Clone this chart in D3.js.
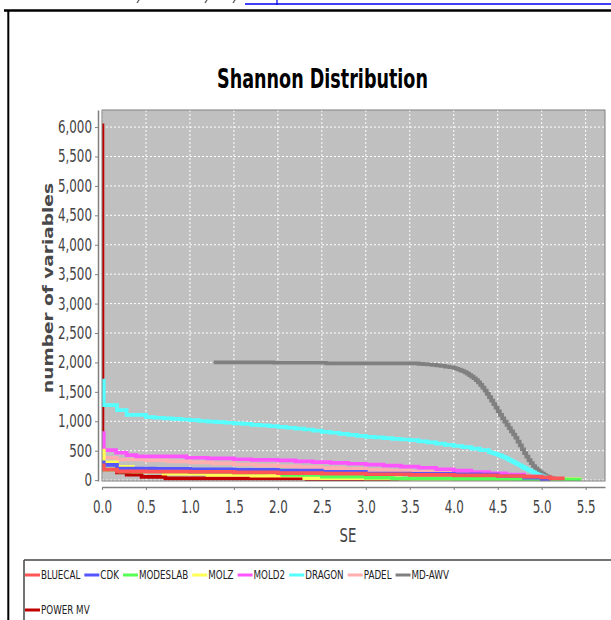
<!DOCTYPE html>
<html>
<head>
<meta charset="utf-8">
<script src="https://cdn.jsdelivr.net/npm/d3@7"></script>
<style>
  body { margin: 0; background: #fff; }
  svg { display: block; }
</style>
</head>
<body>
<script>
// series names and colours (legend order)
const seriesNames = ["BLUECAL", "CDK", "MODESLAB", "MOLZ", "MOLD2", "DRAGON", "PADEL", "MD-AWV", "POWER MV"];
const seriesColors = ["#ff5555", "#5555ff", "#55ff55", "#ffff55", "#ff55ff", "#55ffff", "#ffafaf", "#808080", "#c00000"];

// SE thresholds and number of variables
const bluecalSE = [0, 0.02, 0.17, 0.5, 1.0, 1.5, 2.0, 2.5, 3.0, 3.5, 4.0, 4.5, 4.8, 5.0, 5.1, 5.24];
const bluecalN  = [250, 180, 150, 145, 140, 130, 120, 110, 100, 90, 80, 70, 58, 45, 30, 0];

const cdkSE = [0, 0.02, 0.17, 0.6, 1.0, 1.5, 2.0, 2.5, 3.0, 3.5, 4.0, 4.3, 4.5, 4.8, 5.0, 5.1];
const cdkN  = [300, 260, 195, 190, 185, 175, 160, 140, 110, 105, 100, 95, 70, 40, 15, 0];

const modeslabSE = [0, 0.02, 0.2, 1.0, 1.5, 1.85, 2.05, 2.5, 3.0, 3.3, 4.0, 4.7, 5.0, 5.45];
const modeslabN  = [260, 180, 150, 140, 130, 165, 90, 60, 40, 25, 22, 18, 10, 10];

const molzSE = [0, 0.02, 0.17, 0.35, 0.7, 1.2, 1.7, 2.3, 3.0, 3.4, 4.0, 4.7, 5.2, 5.45];
const molzN  = [500, 300, 225, 150, 110, 90, 75, 35, 30, 22, 18, 15, 12, 12];

const mold2SE = [0, 0.02, 0.16, 0.28, 0.39, 0.96, 1.2, 1.5, 1.7, 2.0, 2.2, 2.4, 2.6, 2.8, 3.0, 3.2, 3.4, 3.6, 3.8, 4.0, 4.2, 4.4, 4.6, 4.8, 5.0, 5.1];
const mold2N  = [800, 510, 465, 425, 405, 380, 370, 355, 345, 335, 320, 305, 292, 278, 262, 245, 228, 210, 185, 160, 135, 115, 95, 60, 30, 0];

const dragonSE = [0, 0.02, 0.17, 0.28, 0.5, 0.6, 0.7, 0.8, 0.9, 1.0, 1.1, 1.2, 1.3, 1.4, 1.5, 1.6, 1.7, 1.8, 1.9, 2.0,
    2.1, 2.2, 2.3, 2.4, 2.5, 2.6, 2.7, 2.8, 2.9, 3.0, 3.1, 3.2, 3.3, 3.4, 3.5, 3.6, 3.7, 3.8, 3.9, 4.0, 4.1, 4.2, 4.3,
    4.4, 4.425, 4.45, 4.475, 4.5, 4.525, 4.55, 4.575, 4.6, 4.625, 4.65, 4.675, 4.7, 4.725, 4.75, 4.775, 4.8, 4.825,
    4.85, 4.875, 4.9, 4.925, 4.95, 4.975, 5.0, 5.025, 5.05, 5.075, 5.1, 5.15, 5.2];
const dragonN  = [1690, 1275, 1190, 1110, 1070, 1060, 1050, 1040, 1030, 1020, 1005, 995, 985, 975, 965, 955, 940, 930, 918, 905,
    890, 875, 860, 840, 820, 805, 785, 770, 752, 735, 725, 712, 700, 690, 680, 660, 640, 620, 600, 580, 560, 535, 510,
    475, 465, 455, 443, 430, 415, 400, 383, 365, 345, 325, 305, 285, 265, 245, 225, 205, 185,
    165, 147, 130, 112, 95, 80, 65, 52, 40, 30, 20, 8, 0];

const padelSE = [0, 0.02, 0.17, 0.5, 0.75, 1.0, 1.25, 1.5, 1.75, 2.0, 2.25, 2.5, 2.75, 3.0, 3.25, 3.5, 3.75, 4.0, 4.25, 4.5, 4.65, 4.8, 5.0, 5.15];
const padelN  = [440, 380, 350, 335, 318, 300, 283, 265, 250, 235, 220, 205, 190, 175, 160, 145, 130, 115, 98, 80, 62, 45, 20, 0];

const mdawvSE = [1.27, 1.95, 2.55, 3.6, 3.65, 3.7, 3.75, 3.8, 3.85, 3.9, 3.95,
    4.0, 4.025, 4.05, 4.075, 4.1, 4.125, 4.15, 4.175, 4.2, 4.225, 4.25, 4.275, 4.3, 4.325, 4.35, 4.375,
    4.4, 4.425, 4.45, 4.475, 4.5, 4.525, 4.55, 4.575, 4.6, 4.625, 4.65, 4.675, 4.7, 4.725, 4.75, 4.775,
    4.8, 4.825, 4.85, 4.875, 4.9, 4.925, 4.95, 4.975, 5.0, 5.025, 5.05, 5.075, 5.1, 5.125, 5.15, 5.2, 5.25];
const mdawvN  = [2000, 1995, 1985, 1975, 1970, 1965, 1958, 1950, 1941, 1930, 1918,
    1905, 1893, 1880, 1866, 1850, 1831, 1810, 1786, 1760, 1731, 1700, 1662, 1620, 1572, 1520, 1466,
    1410, 1350, 1290, 1230, 1170, 1110, 1050, 995, 940, 885, 830, 775, 720, 655, 590, 525,
    460, 400, 340, 290, 240, 200, 165, 135, 110, 85, 65, 50, 35, 25, 15, 5, 0];

const powermvSE = [0, 0.005, 0.17, 0.28, 0.45, 0.72, 2.33, 3.0, 3.5];
const powermvN  = [6030, 270, 130, 95, 55, 28, 15, 5, 0];

const seriesSE = [bluecalSE, cdkSE, modeslabSE, molzSE, mold2SE, dragonSE, padelSE, mdawvSE, powermvSE];
const seriesN  = [bluecalN, cdkN, modeslabN, molzN, mold2N, dragonN, padelN, mdawvN, powermvN];

// axis ticks
const xTicks = [0, 0.5, 1, 1.5, 2, 2.5, 3, 3.5, 4, 4.5, 5, 5.5];
const yTicks = [0, 500, 1000, 1500, 2000, 2500, 3000, 3500, 4000, 4500, 5000, 5500, 6000];

const title = "Shannon Distribution";
const xLabel = "SE";
const yLabel = "number of variables";

const width = 611, height = 620;
const plot = { left: 102, right: 605, top: 110, bottom: 481 };
const squeezeK = 0.7;   // the picture is narrowed horizontally

const svg = d3.select("body").append("svg")
    .attr("width", width)
    .attr("height", height);

// narrow text horizontally, keeping its anchor point
function squeeze(sel, k) {
    sel.each(function () {
        const t = d3.select(this);
        const x0 = +t.attr("x") || 0;
        t.attr("x", x0 / k).attr("transform", `scale(${k},1)`);
    });
}

const x = d3.scaleLinear().domain([0, 5.72]).range([plot.left, plot.right]);
const y = d3.scaleLinear().domain([-15, 6290]).range([plot.bottom, plot.top]);

// page fragments above the chart (cut-off line of the page)
svg.append("line")
    .attr("x1", 245).attr("x2", width).attr("y1", 4).attr("y2", 4)
    .attr("stroke", "#0000ee").attr("stroke-width", 1.5);
svg.append("line")
    .attr("x1", 277).attr("x2", 277).attr("y1", 0).attr("y2", 5)
    .attr("stroke", "#0000ee").attr("stroke-width", 1.2);
[138, 206, 234].forEach(cx => {
    svg.append("path")
        .attr("d", `M${cx + 1},0 L${cx - 1},3`)
        .attr("stroke", "#555").attr("stroke-width", 1.3).attr("fill", "none");
});

// outer frame
svg.append("line")
    .attr("x1", 4).attr("x2", width).attr("y1", 10.5).attr("y2", 10.5)
    .attr("stroke", "#000").attr("stroke-width", 2.5);
svg.append("line")
    .attr("x1", 8.3).attr("x2", 8.3).attr("y1", 10).attr("y2", height)
    .attr("stroke", "#000").attr("stroke-width", 2);

// plot background
svg.append("rect")
    .attr("x", plot.left).attr("y", plot.top)
    .attr("width", plot.right - plot.left).attr("height", plot.bottom - plot.top)
    .attr("fill", "#c0c0c0");

// gridlines
svg.append("g").selectAll("line")
    .data(xTicks)
    .enter().append("line")
    .attr("x1", d => x(d)).attr("x2", d => x(d))
    .attr("y1", plot.top).attr("y2", plot.bottom)
    .attr("stroke", "#fff").attr("stroke-width", 1).attr("stroke-dasharray", "2,2");
svg.append("g").selectAll("line")
    .data(yTicks)
    .enter().append("line")
    .attr("x1", plot.left).attr("x2", plot.right)
    .attr("y1", d => y(d)).attr("y2", d => y(d))
    .attr("stroke", "#fff").attr("stroke-width", 1).attr("stroke-dasharray", "2,2");

// clip for the series
svg.append("clipPath").attr("id", "plotClip")
    .append("rect")
    .attr("x", plot.left).attr("y", plot.top)
    .attr("width", plot.right - plot.left).attr("height", plot.bottom - plot.top);

const line = d3.line()
    .x(d => x(d[0]))
    .y(d => y(d[1]))
    .curve(d3.curveStepAfter);

// series are drawn in reverse order, first series on top
const order = d3.range(seriesNames.length).reverse();
svg.append("g").attr("clip-path", "url(#plotClip)")
    .selectAll("path")
    .data(order)
    .enter().append("path")
    .attr("d", i => line(seriesSE[i].map((s, j) => [s, seriesN[i][j]])))
    .attr("fill", "none")
    .attr("stroke", i => seriesColors[i])
    .attr("stroke-width", 3.7);

// plot outline
svg.append("rect")
    .attr("x", plot.left).attr("y", plot.top)
    .attr("width", plot.right - plot.left).attr("height", plot.bottom - plot.top)
    .attr("fill", "none").attr("stroke", "#808080").attr("stroke-width", 1);

// y axis
const yAxis = svg.append("g")
    .attr("transform", "translate(98,0)")
    .call(d3.axisLeft(y).tickValues(yTicks).tickFormat(d3.format(","))
        .tickSizeInner(3).tickSizeOuter(0).tickPadding(3));
yAxis.select(".domain").attr("stroke", "#808080").attr("stroke-width", 1.5);
yAxis.selectAll(".tick line").attr("stroke", "#808080");
yAxis.selectAll(".tick text")
    .attr("fill", "#444")
    .attr("font-family", "DejaVu Sans")
    .attr("font-size", 17);
squeeze(yAxis.selectAll(".tick text"), squeezeK);

// x axis
const xAxis = svg.append("g")
    .attr("transform", "translate(0,487)")
    .call(d3.axisBottom(x).tickValues(xTicks).tickFormat(d3.format(".1f"))
        .tickSizeInner(3).tickSizeOuter(0).tickPadding(11));
xAxis.select(".domain").attr("stroke", "#808080").attr("stroke-width", 1.5);
xAxis.selectAll(".tick line").attr("stroke", "#808080");
xAxis.selectAll(".tick text")
    .attr("fill", "#444")
    .attr("font-family", "DejaVu Sans")
    .attr("font-size", 17);
squeeze(xAxis.selectAll(".tick text"), squeezeK);

// axis labels
svg.append("text")
    .attr("transform", `translate(348,542) scale(${squeezeK},1)`)
    .attr("text-anchor", "middle")
    .attr("font-family", "DejaVu Sans")
    .attr("font-size", 19)
    .attr("fill", "#444")
    .text(xLabel);

const yLabelText = svg.append("text")
    .attr("text-anchor", "middle")
    .attr("font-family", "DejaVu Sans")
    .attr("font-weight", "bold")
    .attr("font-size", 20)
    .attr("fill", "#484848")
    .text(yLabel);
const yLabelK = 210 / yLabelText.node().getComputedTextLength();
yLabelText.attr("transform", `translate(53,288) rotate(-90) scale(${yLabelK},${squeezeK})`);

// title, fitted to the narrowed width of the picture
const titleText = svg.append("text")
    .attr("text-anchor", "middle")
    .attr("font-family", "DejaVu Sans")
    .attr("font-weight", "bold")
    .attr("font-size", 27)
    .attr("fill", "#000")
    .text(title);
const titleK = 211 / titleText.node().getComputedTextLength();
titleText.attr("transform", `translate(322.5,88) scale(${titleK},1)`);

// legend
svg.append("line")
    .attr("x1", 24).attr("x2", width).attr("y1", 560).attr("y2", 560)
    .attr("stroke", "#444").attr("stroke-width", 1.5);
svg.append("line")
    .attr("x1", 24).attr("x2", 24).attr("y1", 560).attr("y2", height)
    .attr("stroke", "#444").attr("stroke-width", 1.5);

const legend = svg.append("g");
let lx = 25, ly = 575;
seriesNames.forEach((name, i) => {
    const t = legend.append("text")
        .attr("font-family", "DejaVu Sans")
        .attr("font-size", 12.5)
        .attr("fill", "#222")
        .attr("dy", "0.36em")
        .text(name);
    const w = t.node().getComputedTextLength() * squeezeK;
    if (lx + 16 + w > 480) { lx = 25; ly += 35; }
    legend.append("line")
        .attr("x1", lx).attr("x2", lx + 15)
        .attr("y1", ly).attr("y2", ly)
        .attr("stroke", seriesColors[i]).attr("stroke-width", 3);
    t.attr("y", ly).attr("x", lx + 16);
    squeeze(t, squeezeK);
    lx += 16 + w + 4;
});
</script>
</body>
</html>
